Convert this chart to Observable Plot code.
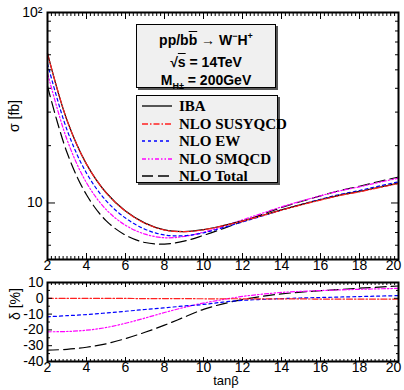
<!DOCTYPE html>
<html>
<head>
<meta charset="utf-8">
<script src="https://cdn.jsdelivr.net/npm/d3@7"></script>
<script src="https://cdn.jsdelivr.net/npm/@observablehq/plot@0.6"></script>
<style>
  body { margin: 0; background: #fff; }
  #chart { position: relative; width: 404px; height: 390px; font-family: "Liberation Sans", Arial, sans-serif; }
  #chart svg.plot-panel { position: absolute; left: 0; background: transparent; overflow: visible; }
  .box { position: absolute; background: #f0f0f0; border: 1px solid #000; box-shadow: 2px 2px 0 #555; }
  .proc { position: absolute; left: 0; width: 100%; text-align: center; font: bold 14px "Liberation Sans", Arial, sans-serif; line-height: 16px; }
  .entry { position: absolute; left: 0; height: 18px; width: 100%; }
  .entry svg { position: absolute; left: 5px; top: 0; }
  .entry span { position: absolute; left: 42px; top: 0; font: bold 15px "Liberation Serif", "Times New Roman", serif; line-height: 18px; white-space: nowrap; }
  .ov { text-decoration: overline; }
  sup, sub { font-size: 9px; line-height: 0; }
</style>
</head>
<body>
<div id="chart"></div>
<script>
// tan(beta) grid
const tanb = [2, 3, 4, 5, 6, 7, 8, 9, 10, 11, 12, 13, 14, 15, 16, 17, 18, 19, 20];

// sigma [fb] for pp/bb -> W- H+, sqrt(s) = 14 TeV, M_H = 200 GeV
const sigmaIBA     = [61.0, 27.2, 16.0, 11.35, 9.07, 7.84, 7.22, 7.08, 7.25, 7.60, 8.05, 8.60, 9.20, 9.80, 10.40, 11.00, 11.50, 12.10, 12.70];
const sigmaSUSYQCD = [61.0, 27.2, 16.0, 11.34, 9.06, 7.82, 7.21, 7.07, 7.23, 7.58, 8.03, 8.57, 9.17, 9.76, 10.36, 10.95, 11.44, 12.04, 12.64];
const sigmaEW      = [53.9, 24.2, 14.35, 10.29, 8.33, 7.28, 6.79, 6.73, 6.97, 7.42, 7.95, 8.54, 9.18, 9.82, 10.45, 11.09, 11.63, 12.27, 12.92];
const sigmaSMQCD   = [48.1, 21.5, 12.77, 9.25, 7.64, 6.86, 6.57, 6.67, 7.03, 7.54, 8.15, 8.82, 9.54, 10.23, 10.91, 11.58, 12.16, 12.83, 13.50];
const sigmaTotal   = [41.0, 18.4, 11.04, 8.08, 6.78, 6.20, 6.08, 6.30, 6.76, 7.33, 7.99, 8.70, 9.46, 10.18, 10.90, 11.62, 12.24, 12.96, 13.69];

// relative corrections delta [%]
const deltaSUSYQCD = [0.0, 0.0, 0.0, -0.1, -0.1, -0.2, -0.2, -0.2, -0.3, -0.3, -0.3, -0.4, -0.4, -0.4, -0.5, -0.5, -0.5, -0.5, -0.5];
const deltaEW      = [-11.7, -11.0, -10.3, -9.3, -8.2, -7.1, -6.0, -4.9, -3.9, -2.4, -1.3, -0.7, -0.2, 0.2, 0.5, 0.8, 1.1, 1.4, 1.7];
const deltaSMQCD   = [-21.2, -21.0, -20.2, -18.5, -15.8, -12.5, -9.0, -5.8, -3.0, -0.8, 1.2, 2.6, 3.7, 4.4, 4.9, 5.3, 5.7, 6.0, 6.3];
const deltaTotal   = [-32.8, -32.3, -31.0, -28.8, -25.5, -21.5, -17.0, -12.0, -7.0, -3.5, -0.8, 1.2, 2.8, 3.9, 4.8, 5.6, 6.4, 7.1, 7.8];

// axis ticks
const xMajor = [2, 4, 6, 8, 10, 12, 14, 16, 18, 20];
const xLabelled = [2, 4, 6, 8, 10, 12, 14, 16, 18];
const xLast = [20];
const xMinor = d3.range(10, 101).filter(i => i % 10 !== 0).map(i => i / 5);
const sigmaMajor = [10, 100];
const sigmaMinor = [6, 7, 8, 9, 20, 30, 40, 50, 60, 70, 80, 90];
const deltaMajor = [10, 0, -10, -20, -30, -40];
const deltaMinor = [5, -5, -15, -25, -35];

// line styles per series
const styles = {
  "IBA":         {stroke: "#000", dash: null},
  "NLO SUSYQCD": {stroke: "#ff2020", dash: "6,2,1.5,2"},
  "NLO EW":      {stroke: "#0000ff", dash: "3,3"},
  "NLO SMQCD":   {stroke: "#ff00ff", dash: "4,2,1.5,2,1.5,2"},
  "NLO Total":   {stroke: "#000", dash: "11,5"}
};

const rows = ys => tanb.map((x, i) => ({x, y: ys[i]}));

function seriesLine(name, ys) {
  const s = styles[name];
  return Plot.line(rows(ys), {x: "x", y: "y", stroke: s.stroke, strokeWidth: 1.2,
    strokeDasharray: s.dash, curve: "catmull-rom"});
}

// x labels (the last one pulled inside the page edge), inward ticks on all four sides
function frameAxes(majLen, minLen, minorY, majorY, yMajLen, yMinLen) {
  const blank = () => "";
  return [
    Plot.axisX({anchor: "bottom", ticks: xLabelled, tickSize: -majLen, tickPadding: majLen + 1, tickFormat: d => String(d), label: null}),
    Plot.axisX({anchor: "bottom", ticks: xLast, tickSize: 0, tickPadding: 1, dx: -5, tickFormat: d => String(d), label: null}),
    Plot.axisX({anchor: "bottom", ticks: xMinor, tickSize: -minLen, tickFormat: blank, label: null}),
    Plot.axisX({anchor: "top", ticks: xMajor, tickSize: -majLen, tickFormat: blank, label: null}),
    Plot.axisX({anchor: "top", ticks: xMinor, tickSize: -minLen, tickFormat: blank, label: null}),
    Plot.axisY({anchor: "left", ticks: minorY, tickSize: -yMinLen, tickFormat: blank, label: null}),
    Plot.axisY({anchor: "right", ticks: majorY, tickSize: -yMajLen, tickFormat: blank, label: null}),
    Plot.axisY({anchor: "right", ticks: minorY, tickSize: -yMinLen, tickFormat: blank, label: null})
  ];
}

const font = {fontFamily: "Liberation Sans, Arial, sans-serif", fontSize: "14px", color: "#000", background: "transparent"};

// upper panel: cross sections
const upper = Plot.plot({
  width: 404, height: 280,
  marginLeft: 47, marginRight: 6, marginTop: 12, marginBottom: 21,
  style: font,
  x: {domain: [2, 20]},
  y: {type: "log", domain: [5.05, 100]},
  marks: [
    seriesLine("NLO Total", sigmaTotal),
    seriesLine("NLO SMQCD", sigmaSMQCD),
    seriesLine("NLO EW", sigmaEW),
    seriesLine("IBA", sigmaIBA),
    seriesLine("NLO SUSYQCD", sigmaSUSYQCD),
    Plot.axisY({anchor: "left", ticks: sigmaMajor, tickSize: -8, tickPadding: 13, tickFormat: d => d === 100 ? "10²" : "10", label: null}),
    ...frameAxes(6, 3, sigmaMinor, sigmaMajor, 8, 4),
    Plot.text(["σ [fb]"], {frameAnchor: "left", rotate: -90, dx: -33, dy: -4, fontSize: 14}),
    Plot.frame({stroke: "#000", strokeWidth: 2})
  ]
});
upper.classList.add("plot-panel");
upper.style.top = "0px";

// lower panel: relative corrections
const lower = Plot.plot({
  width: 404, height: 118,
  marginLeft: 47, marginRight: 6, marginTop: 10, marginBottom: 29,
  style: font,
  x: {domain: [2, 20]},
  y: {domain: [-40, 10]},
  marks: [
    seriesLine("NLO Total", deltaTotal),
    seriesLine("NLO SMQCD", deltaSMQCD),
    seriesLine("NLO EW", deltaEW),
    seriesLine("NLO SUSYQCD", deltaSUSYQCD),
    Plot.axisY({anchor: "left", ticks: deltaMajor, tickSize: -5, tickPadding: 9, tickFormat: d => String(d), label: null}),
    ...frameAxes(4, 2, deltaMinor, deltaMajor, 5, 3),
    Plot.text(["δ [%]"], {frameAnchor: "left", rotate: -90, dx: -32, dy: -2, fontSize: 14}),
    Plot.text(["tanβ"], {frameAnchor: "bottom", dx: 3, dy: 23, fontSize: 13}),
    Plot.frame({stroke: "#000", strokeWidth: 2})
  ]
});
lower.classList.add("plot-panel");
lower.style.top = "272px";

const chart = document.getElementById("chart");
chart.append(upper, lower);

// process box
const proc = document.createElement("div");
proc.className = "box";
Object.assign(proc.style, {left: "136px", top: "24px", width: "138px", height: "62px"});
proc.innerHTML =
  '<div class="proc" style="top:7px">pp/b<span class="ov">b</span> <span style="font-weight:normal">→</span> W<sup>−</sup>H<sup>+</sup></div>' +
  '<div class="proc" style="top:29px">√<span class="ov">s</span> = 14TeV</div>' +
  '<div class="proc" style="top:47px">M<sub>H±</sub> = 200GeV</div>';
chart.append(proc);

// series legend
const legendNames = ["IBA", "NLO SUSYQCD", "NLO EW", "NLO SMQCD", "NLO Total"];
const leg = document.createElement("div");
leg.className = "box";
Object.assign(leg.style, {left: "136px", top: "95px", width: "140px", height: "86px"});
legendNames.forEach((name, i) => {
  const s = styles[name];
  const e = document.createElement("div");
  e.className = "entry";
  e.style.top = (1 + i * 17.6) + "px";
  e.innerHTML =
    `<svg width="32" height="18"><line x1="0" y1="9" x2="30" y2="9" stroke="${s.stroke}" stroke-width="1.3"` +
    (s.dash ? ` stroke-dasharray="${s.dash}"` : "") + `/></svg><span>${name}</span>`;
  leg.append(e);
});
chart.append(leg);
</script>
</body>
</html>
